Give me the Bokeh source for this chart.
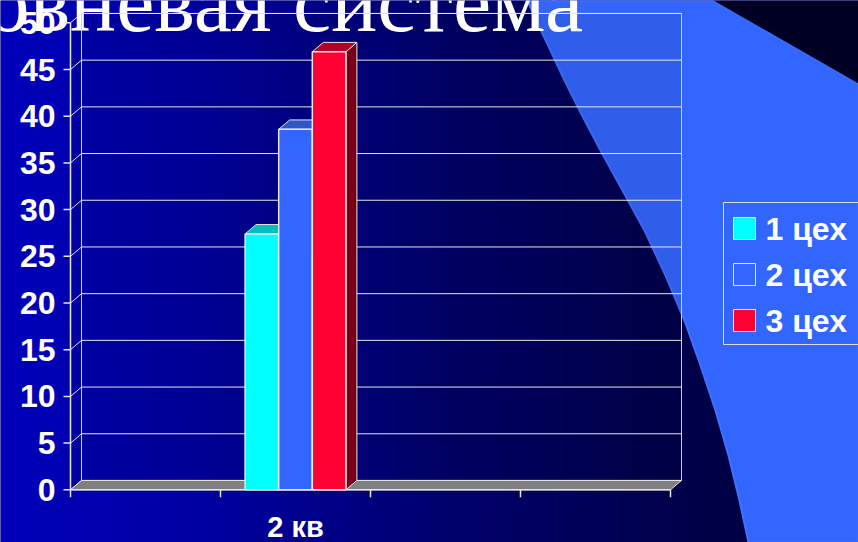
import numpy as np
from bokeh.plotting import figure
from bokeh.models import Range1d, ColumnDataSource
from bokeh.core.properties import value
from bokeh.embed import file_html
from bokeh.resources import INLINE

# ---------------- data ----------------
quarters = ["1 кв", "2 кв", "3 кв", "4 кв"]
quarter_labels_shown = ["", "2 кв", "", ""]
series = ["1 цех", "2 цех", "3 цех"]
values_2kv = [27.4, 38.6, 46.9]          # values for "2 кв"
bar_quarter = "2 кв"
y_ticks = [0, 5, 10, 15, 20, 25, 30, 35, 40, 45, 50]
title_text = "овневая система"

# ---------------- styles ----------------
front_colors = ["#00FFFF", "#3366FF", "#FF0033"]
top_colors = ["#00BFBF", "#2F55C8", "#B40028"]
side_colors = ["#009090", "#2040A0", "#7A0018"]
W, H = 858, 542
FONT = value("Liberation Sans")

p = figure(width=W, height=H, output_backend="svg", toolbar_location=None,
           x_axis_location=None, y_axis_location=None, min_border=0,
           x_range=Range1d(-70 / 150, (W - 70) / 150),
           y_range=Range1d((489.3 - H) / 9.34, 489.3 / 9.34))
p.grid.visible = False
p.outline_line_color = None
p.background_fill_color = "#000080"
p.border_fill_color = "#000080"
p.extra_x_ranges = {"px": Range1d(0, W)}
p.extra_y_ranges = {"px": Range1d(H, 0)}
PX = dict(x_range_name="px", y_range_name="px")

# ---------------- slide background (decoration) ----------------
step = 2
xs = np.arange(0, W + step, step)
stops_x = [0, 200, 450, 690, 858]
stops_b = [186, 162, 108, 74, 54]
b = np.interp(xs, stops_x, stops_b).astype(int)
cols = ["#0000%02X" % v for v in b]
p.quad(left=xs, right=xs + step + 1, top=0, bottom=H, fill_color=cols,
       line_color=None, **PX)

curve = [(527, 0), (538, 25), (550, 50), (564, 80), (580, 112), (600, 150),
         (622, 190), (645, 232), (665, 275), (684, 320), (700, 365),
         (715, 410), (728, 455), (739, 500), (748, 542)]
shape_x = [c[0] for c in curve] + [W, W, 713]
shape_y = [c[1] for c in curve] + [H, 83, 0]
p.patch(shape_x, shape_y, fill_color="#3366FF", line_color="#3F70FF",
        line_width=2, **PX)
p.patch([713, W, W], [0, 0, 83], fill_color="#000024", line_color=None, **PX)

# ---------------- chart ----------------
DX = 11 / 150
DY = 1.0
ncat = len(quarters)
ymax = y_ticks[-1]

# plot area (back wall + side wall), slightly darker
p.patch([DX, ncat + DX, ncat + DX, DX], [DY, DY, ymax + DY, ymax + DY],
        fill_color="black", fill_alpha=0.08, line_color=None)
p.patch([0, DX, DX, 0], [0, DY, ymax + DY, ymax], fill_color="black",
        fill_alpha=0.08, line_color=None)

# title (cut off at the top/left like the slide)
p.text(x=[-14], y=[1], text=[title_text], text_color="white",
       text_font=value("Liberation Serif"), text_font_size="86px",
       text_baseline="alphabetic", text_align="left", **PX)

# wall border
p.patch([DX, ncat + DX, ncat + DX, DX], [DY, DY, ymax + DY, ymax + DY],
        fill_color=None, line_color="#D0D0D0", line_width=1)

# gridlines on the back wall and the side wall
p.segment(x0=[DX] * len(y_ticks), y0=[t + DY for t in y_ticks],
          x1=[ncat + DX] * len(y_ticks), y1=[t + DY for t in y_ticks],
          line_color="#E6E6E6", line_width=1)
p.segment(x0=[0] * len(y_ticks), y0=y_ticks,
          x1=[DX] * len(y_ticks), y1=[t + DY for t in y_ticks],
          line_color="#E6E6E6", line_width=1)

# floor
p.patch([0, ncat, ncat + DX, DX], [0, 0, DY, DY], fill_color="#808080",
        line_color="#E6E6E6", line_width=1)

# axes
p.segment(x0=[0], y0=[0], x1=[0], y1=[ymax], line_color="#E6E6E6", line_width=1.5)
p.segment(x0=[0], y0=[0], x1=[ncat], y1=[0], line_color="#E6E6E6", line_width=1.5)
p.segment(x0=[-7 / 150] * len(y_ticks), y0=y_ticks, x1=[0] * len(y_ticks),
          y1=y_ticks, line_color="#E6E6E6", line_width=1.5)
cat_edges = list(range(ncat + 1))
p.segment(x0=cat_edges, y0=[0] * len(cat_edges), x1=cat_edges,
          y1=[-0.8] * len(cat_edges), line_color="#E6E6E6", line_width=1.5)

# y tick labels
p.text(x=[-15 / 150] * len(y_ticks), y=y_ticks, text=[str(t) for t in y_ticks],
       text_color="white", text_font=FONT, text_font_style="bold",
       text_font_size="32px", text_align="right", text_baseline="middle")

# x category labels
p.text(x=[i + 0.5 for i in range(ncat)], y=[-3.95] * ncat,
       text=quarter_labels_shown, text_color="white", text_font=FONT,
       text_font_style="bold", text_font_size="29px", text_align="center",
       text_baseline="middle")

# 3D bars
qi = quarters.index(bar_quarter)
bw = 0.224
n = len(series)
for i, (v, fc, tc, sc) in enumerate(zip(values_2kv, front_colors, top_colors, side_colors)):
    center = qi + 0.5 + (i - (n - 1) / 2) * bw
    l, r = center - bw / 2, center + bw / 2
    p.patch([r, r + DX, r + DX, r], [0, DY, v + DY, v], fill_color=sc,
            line_color="#E6E6E6", line_width=1)
    p.patch([l, l + DX, r + DX, r], [v, v + DY, v + DY, v], fill_color=tc,
            line_color="#E6E6E6", line_width=1)
    p.quad(left=[l], right=[r], bottom=[0], top=[v], fill_color=fc,
           line_color="#E6E6E6", line_width=1.5)

# legend (drawn in pixel space)
p.quad(left=[723], right=[W + 20], top=[202], bottom=[344], fill_color=None,
       line_color="#D8DEFF", line_width=1, **PX)
rows_y = [228, 274, 320]
leg = ColumnDataSource(dict(x0=[733] * n, x1=[755] * n,
                            y0=[r - 11 for r in rows_y], y1=[r + 11 for r in rows_y],
                            c=front_colors, name=series, ty=rows_y, tx=[765] * n))
p.quad(left="x0", right="x1", top="y0", bottom="y1", fill_color="c",
       line_color="#E6E6E6", line_width=1, source=leg, **PX)
p.text(x="tx", y="ty", text="name", source=leg, text_color="white",
       text_font=FONT, text_font_style="bold", text_font_size="32px",
       text_baseline="middle", text_align="left", **PX)

open("out.html", "w").write(file_html(p, INLINE))
